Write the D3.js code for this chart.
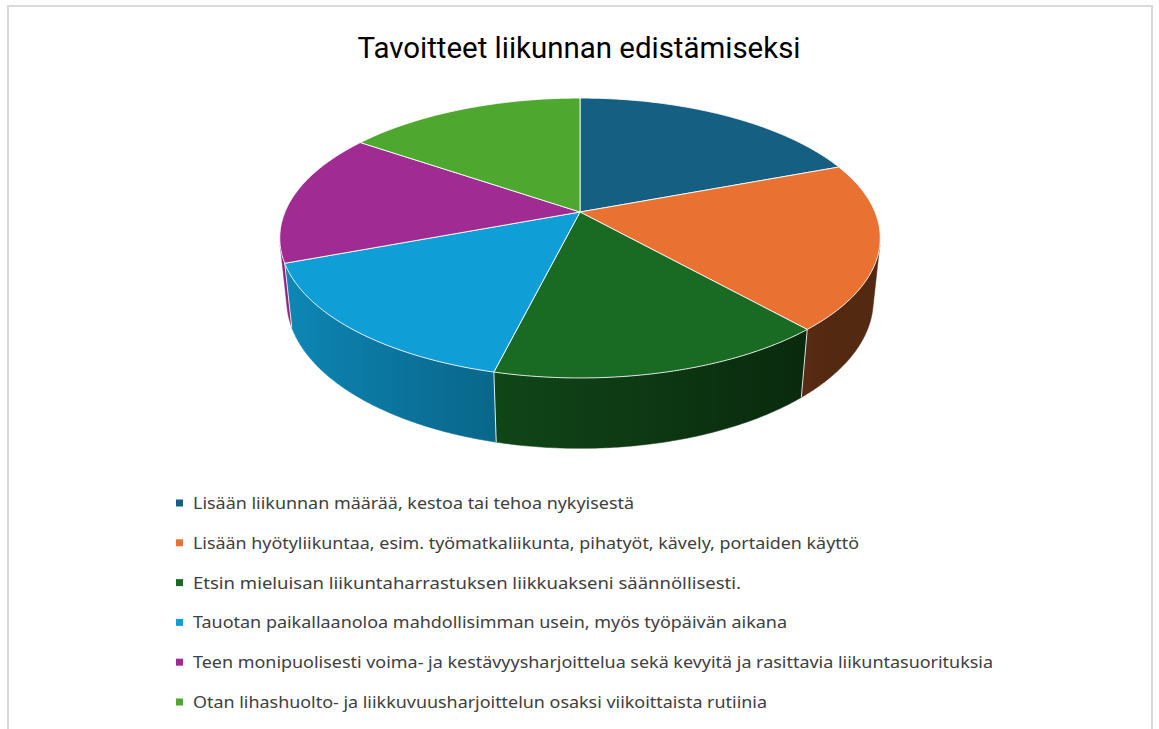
<!DOCTYPE html>
<html>
<head>
<meta charset="utf-8">
<script src="https://cdn.jsdelivr.net/npm/d3@7"></script>
<style>
  html, body { margin: 0; padding: 0; background: #ffffff; }
  svg { display: block; }
</style>
</head>
<body>
<svg id="chart" width="1159" height="729"></svg>
<script>
// Chart content
const chartTitle = "Tavoitteet liikunnan edistämiseksi";
const categories = [
  "Lisään liikunnan määrää, kestoa tai tehoa nykyisestä",
  "Lisään hyötyliikuntaa, esim. työmatkaliikunta, pihatyöt, kävely, portaiden käyttö",
  "Etsin mieluisan liikuntaharrastuksen liikkuakseni säännöllisesti.",
  "Tauotan paikallaanoloa mahdollisimman usein, myös työpäivän aikana",
  "Teen monipuolisesti voima- ja kestävyysharjoittelua sekä kevyitä ja rasittavia liikuntasuorituksia",
  "Otan lihashuolto- ja liikkuvuusharjoittelun osaksi viikoittaista rutiinia"
];
const values = [5, 5, 4, 4, 4, 4];
const colors = ["#156082", "#E97132", "#196B24", "#0F9ED5", "#A02B93", "#4EA72E"];
// legend label widths in px
const legendWidths = [441, 666, 548, 594, 800, 574];

const svg = d3.select("#chart");
const defs = svg.append("defs");

// frame
svg.append("rect")
  .attr("x", 8).attr("y", 6).attr("width", 1144).attr("height", 760)
  .attr("fill", "none").attr("stroke", "#d9d9d9").attr("stroke-width", 2);

// title
svg.append("text")
  .attr("x", 579).attr("y", 58)
  .attr("text-anchor", "middle")
  .attr("font-family", "'Liberation Sans Narrow', 'Roboto', sans-serif")
  .attr("font-size", 30)
  .attr("fill", "#000")
  .attr("textLength", 443)
  .attr("lengthAdjust", "spacingAndGlyphs")
  .text(chartTitle);

// ---- 3D pie geometry (perspective view of a tilted disc) ----
const cx = 580, cy = 212;
const R = 0.209;          // disc radius (camera distance = 1)
const H = 0.05;           // disc thickness
const beta = Math.asin(0.458);   // viewing elevation
const focal = 1411.5;
const sb = Math.sin(beta), cb = Math.cos(beta);
// generator lines of the rim that form the left/right outline
const silR = Math.acos(-R / cb), silL = 2 * Math.PI - silR;

function proj(theta, h) {
  const x = R * Math.sin(theta);
  const z = R * Math.cos(theta);
  const Y = h * cb + z * sb;
  const Zc = 1 + z * cb - h * sb;
  return [cx + focal * x / Zc, cy - focal * Y / Zc];
}

const pie = d3.pie().sort(null).value(d => d).startAngle(0).endAngle(2 * Math.PI);
const arcs = pie(values);

const shadeFactor = theta => Math.max(0.36, Math.min(0.9, 0.58 + 0.30 * (-Math.sin(theta))));
const shade = (col, theta) => {
  const f = shadeFactor(theta);
  const c = d3.rgb(col);
  return d3.rgb(c.r * f, c.g * f, c.b * f).formatHex();
};

const line = d3.line();
const step = Math.PI / 360;

// visible wall span of each slice
const walls = arcs.map((a, i) => {
  const t0 = Math.max(a.startAngle, silR), t1 = Math.min(a.endAngle, silL);
  return { i, t0, t1, a };
}).filter(w => w.t1 > w.t0);

walls.forEach(w => {
  const n = Math.max(2, Math.ceil((w.t1 - w.t0) / step));
  const ts = d3.range(n + 1).map(k => w.t0 + (w.t1 - w.t0) * k / n);
  w.top = ts.map(t => proj(t, 0));
  w.bot = ts.map(t => proj(t, -H));
  // horizontal gradient across the wall
  const xa = proj(w.t1, 0)[0], xb = proj(w.t0, 0)[0];   // xa < xb
  const grad = defs.append("linearGradient")
    .attr("id", "wall" + w.i)
    .attr("gradientUnits", "userSpaceOnUse")
    .attr("x1", xa).attr("x2", xb).attr("y1", 0).attr("y2", 0);
  const m = 24;
  d3.range(m + 1).forEach(k => {
    const t = w.t1 - (w.t1 - w.t0) * k / m;
    const off = xb > xa ? (proj(t, 0)[0] - xa) / (xb - xa) : 0;
    grad.append("stop")
      .attr("offset", Math.max(0, Math.min(1, off)))
      .attr("stop-color", shade(colors[w.i], t));
  });
});

svg.append("g").selectAll("path").data(walls).join("path")
  .attr("d", w => line(w.top.concat(w.bot.slice().reverse())) + "Z")
  .attr("fill", w => `url(#wall${w.i})`)
  .attr("stroke", w => `url(#wall${w.i})`)
  .attr("stroke-width", 0.5);

// divider lines on the front wall
svg.append("g").selectAll("line")
  .data(arcs.filter(a => a.startAngle > silR && a.startAngle < silL))
  .join("line")
  .attr("x1", a => proj(a.startAngle, 0)[0])
  .attr("y1", a => proj(a.startAngle, 0)[1])
  .attr("x2", a => proj(a.startAngle, -H)[0])
  .attr("y2", a => proj(a.startAngle, -H)[1])
  .attr("stroke", "rgba(255,255,255,0.85)")
  .attr("stroke-width", 1);

// top faces
const topPath = a => {
  const pts = [[cx, cy]];
  const n = Math.max(2, Math.ceil((a.endAngle - a.startAngle) / step));
  for (let k = 0; k <= n; k++) {
    const t = a.startAngle + (a.endAngle - a.startAngle) * k / n;
    pts.push(proj(t, 0));
  }
  return line(pts) + "Z";
};
svg.append("g").selectAll("path").data(arcs).join("path")
  .attr("d", topPath)
  .attr("fill", (a, i) => colors[i])
  .attr("stroke", "rgba(255,255,255,0.85)")
  .attr("stroke-width", 1)
  .attr("stroke-linejoin", "round");

// ---- legend ----
const ly = d3.scaleLinear().domain([0, categories.length - 1]).range([503, 702]);
const leg = svg.append("g").selectAll("g").data(categories).join("g")
  .attr("transform", (d, i) => `translate(0,${ly(i)})`);
leg.append("rect")
  .attr("x", 176).attr("y", -3.5).attr("width", 7).attr("height", 7)
  .attr("fill", (d, i) => colors[i]);
leg.append("text")
  .attr("x", 193).attr("y", 6)
  .attr("font-family", "'Noto Sans', 'Open Sans', sans-serif")
  .attr("font-size", 16)
  .attr("fill", "#404040")
  .attr("textLength", (d, i) => legendWidths[i])
  .attr("lengthAdjust", "spacingAndGlyphs")
  .text(d => d);
</script>
</body>
</html>
